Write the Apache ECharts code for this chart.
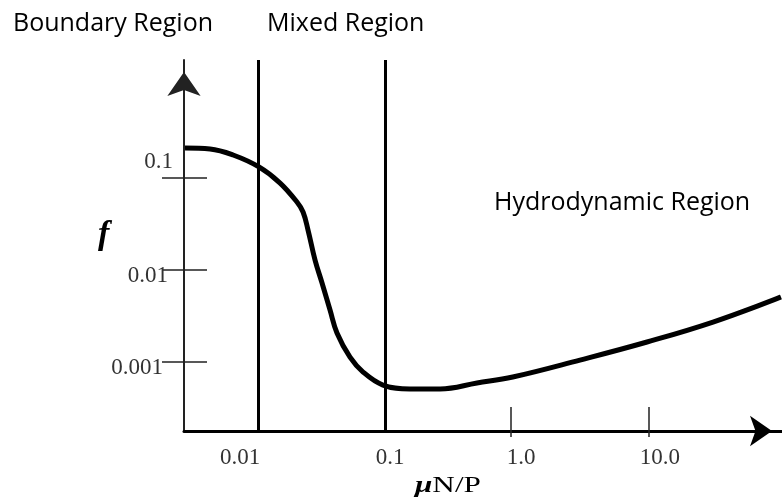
<!DOCTYPE html>
<html>
<head>
<meta charset="utf-8">
<script src="https://cdn.jsdelivr.net/npm/echarts@6/dist/echarts.min.js"></script>
<style>
  html, body { margin: 0; padding: 0; background: #fff; }
  #chart { width: 782px; height: 502px; }
</style>
</head>
<body>
<div id="chart"></div>
<script>
// Stribeck curve: friction coefficient f against μN/P (both log scale)
const muNP = [0.00434, 0.00659, 0.00968, 0.0149, 0.0212, 0.0281, 0.0311, 0.0338, 0.0380, 0.0427,
  0.0488, 0.0548, 0.0681, 0.0847, 0.118, 0.185, 0.306, 0.567, 1.03, 3.16, 9.68, 29.1, 90.5]
const friction = [0.212, 0.207, 0.178, 0.132, 0.0882, 0.0548, 0.0427, 0.0272, 0.0128, 0.00723,
  0.00367, 0.00207, 0.00113, 0.000778, 0.000562, 0.000509, 0.000509, 0.000591, 0.000687, 0.00105,
  0.00165, 0.00272, 0.00509]

// region boundaries (μN/P)
const regionBounds = [0.0149, 0.122]
const regionNames = ['Boundary Region', 'Mixed Region', 'Hydrodynamic Region']

const xLabelValues = [0.01, 0.1, 1, 10]
const xLabelTexts = ['0.01', '0.1', '1.0', '10.0']
const xTickValues = [1, 10]
const yTickValues = [0.001, 0.01, 0.1]
const yLabelTexts = ['0.001', '0.01', '0.1']

const lg = v => Math.log10(v)
const xMin = -2.37, xMax = 1.964
const yMin = -3.75, yMax = 0.283

// hand-placed labels in the original sit a bit off their ticks
const tok = { fontFamily: 'Liberation Serif', fontSize: 23, color: '#333' }
const xLabelRich = {
  a: { ...tok, padding: [0, 0, 0, 10] },
  b: { ...tok, padding: [0, 0, 0, 34] },
  c: { ...tok, padding: [0, 0, 0, 20] },
  d: { ...tok, padding: [0, 0, 0, 22] }
}
const yLabelRich = {
  a: { ...tok, padding: [12, 10, 0, 0] },
  b: { ...tok, padding: [12, 5, 0, 0] },
  c: { ...tok, padding: [0, 0, 32, 0] }
}
const keys = ['a', 'b', 'c', 'd']

const chart = echarts.init(document.getElementById('chart'))

const option = {
  animation: false,
  grid: { left: 184, top: 60, right: 0, bottom: 71 },
  xAxis: [
    {
      type: 'value', min: xMin, max: xMax,
      splitLine: { show: false },
      axisLine: {
        onZero: false,
        symbol: ['none', 'arrow'], symbolSize: [23, 22], symbolOffset: [0, -10],
        lineStyle: { color: '#000', width: 3 }
      },
      axisTick: {
        customValues: xTickValues.map(lg), inside: true, length: 24,
        lineStyle: { color: '#222', width: 1.5 }
      },
      axisLabel: {
        customValues: xLabelValues.map(lg), margin: 15, ...tok,
        rich: xLabelRich,
        formatter: v => {
          const i = xLabelValues.findIndex(x => Math.abs(lg(x) - v) < 1e-6)
          return i < 0 ? '' : '{' + keys[i] + '|' + xLabelTexts[i] + '}'
        }
      }
    },
    {
      // outside half of the crossing ticks
      type: 'value', min: xMin, max: xMax, position: 'bottom',
      splitLine: { show: false },
      axisLine: { show: false, onZero: false },
      axisLabel: { show: false },
      axisTick: {
        customValues: xTickValues.map(lg), length: 6,
        lineStyle: { color: '#222', width: 1.5 }
      }
    }
  ],
  yAxis: [
    {
      type: 'value', min: yMin, max: yMax,
      splitLine: { show: false },
      axisLine: {
        onZero: false,
        symbol: ['none', 'arrow'], symbolSize: [25, 24], symbolOffset: [0, -12],
        lineStyle: { color: '#222', width: 2 }
      },
      axisTick: {
        customValues: yTickValues.map(lg), inside: true, length: 23,
        lineStyle: { color: '#222', width: 1.5 }
      },
      axisLabel: {
        customValues: yTickValues.map(lg), margin: 11, ...tok,
        rich: yLabelRich,
        formatter: v => {
          const i = yTickValues.findIndex(y => Math.abs(lg(y) - v) < 1e-6)
          return i < 0 ? '' : '{' + keys[i] + '|' + yLabelTexts[i] + '}'
        }
      }
    },
    {
      type: 'value', min: yMin, max: yMax, position: 'left',
      splitLine: { show: false },
      axisLine: { show: false, onZero: false },
      axisLabel: { show: false },
      axisTick: {
        customValues: yTickValues.map(lg), length: 22,
        lineStyle: { color: '#222', width: 1.5 }
      }
    }
  ],
  series: [
    {
      type: 'line',
      data: muNP.map((x, i) => [lg(x), lg(friction[i])]),
      smooth: 0.4,
      symbol: 'none',
      clip: false,
      lineStyle: { color: '#000', width: 5 },
      markLine: {
        silent: true,
        symbol: 'none',
        label: { show: false },
        lineStyle: { color: '#000', width: 3, type: 'solid' },
        data: regionBounds.map(v => ({ xAxis: lg(v) }))
      }
    }
  ],
  graphic: [
    { type: 'text', left: 13, top: 11, style: { text: regionNames[0], font: '25px "Open Sans"', fill: '#000' } },
    { type: 'text', left: 267, top: 11, style: { text: regionNames[1], font: '25px "Open Sans"', fill: '#000' } },
    { type: 'text', left: 494, top: 190, style: { text: regionNames[2], font: '25px "Open Sans"', fill: '#000' } },
    { type: 'text', left: 98, top: 218, style: { text: 'f', font: 'italic bold 34px "Liberation Serif"', fill: '#000' } },
    {
      type: 'text', left: 415, top: 474, scaleX: 1.3,
      style: {
        text: '{m|μ}N/P',
        font: '24px "Liberation Serif"', fill: '#000',
        rich: { m: { fontStyle: 'italic', fontWeight: 'bold', fontSize: 24, fontFamily: 'Liberation Serif' } }
      }
    }
  ]
}

chart.setOption(option)
</script>
</body>
</html>
